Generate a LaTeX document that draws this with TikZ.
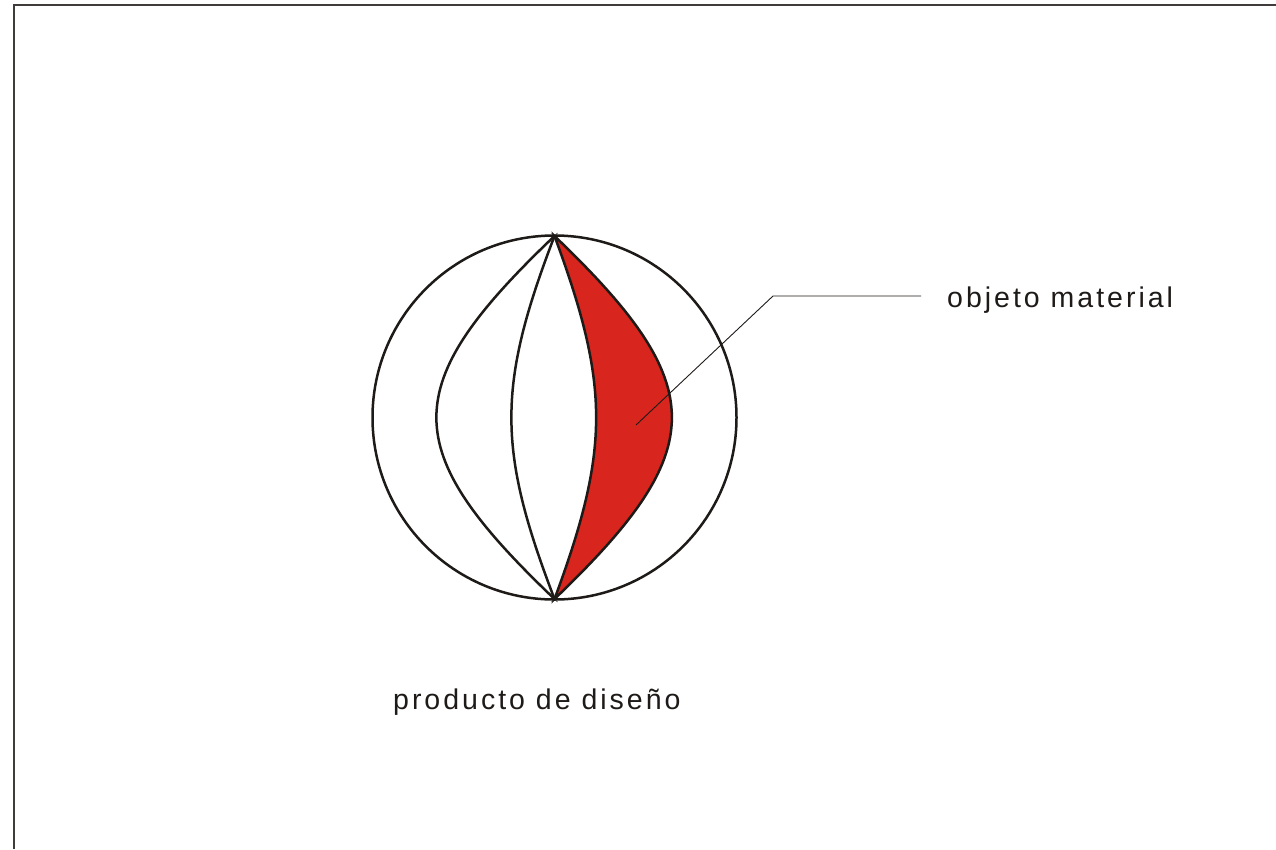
\documentclass[tikz,border=0pt]{standalone}
\usepackage{fontspec}
\newfontfamily\lab[LetterSpace=10.5]{Liberation Sans}
\definecolor{fillred}{RGB}{216,38,30}
\definecolor{ink}{RGB}{30,26,24}
\begin{document}
\begin{tikzpicture}[x=1pt,y=-1pt,
  thick line/.style={draw=ink,line width=2.5pt},
  leader/.style={draw=ink,line width=0.9pt},
  label text/.style={font=\lab\fontsize{28.5}{31}\selectfont,text=ink,inner sep=0pt,anchor=base west}]
\useasboundingbox (0,0) rectangle (1276,849);
% frame
\draw[draw=ink!85,line width=2pt] (14,849) -- (14,5) -- (1276,5);
% apex points
\coordinate (T) at (554.5,236);
\coordinate (B) at (554.5,599);
% circle
\node[circle,thick line,minimum size=364pt,inner sep=0pt] (C) at (554.5,417.5) {};
% meridian curves
\draw[thick line] (T) .. controls (397,386) and (397,449) .. (B);
\draw[thick line] (T) .. controls (497,386) and (497,449) .. (B);
\filldraw[thick line,fill=fillred] (T) .. controls (610,386) and (610,449) .. (B)
   .. controls (711,449) and (711,386) .. (T) -- cycle;
% small crosses at apexes
\foreach \p in {T,B}{
  \draw[draw=ink,line width=0.6pt] ([shift={(-3,-3)}]\p) -- ([shift={(3,3)}]\p)
     ([shift={(-3,3)}]\p) -- ([shift={(3,-3)}]\p);
}
% leader
\coordinate (tip) at (636,425);
\coordinate (bend) at (773,296);
\coordinate (lend) at (921,296);
\draw[leader] (tip) -- (bend) -- (lend);
\node[label text] (obj) at (947,307) {objeto material};
\node[label text] (prod) at (393,709) {producto de diseño};
\end{tikzpicture}
\end{document}
